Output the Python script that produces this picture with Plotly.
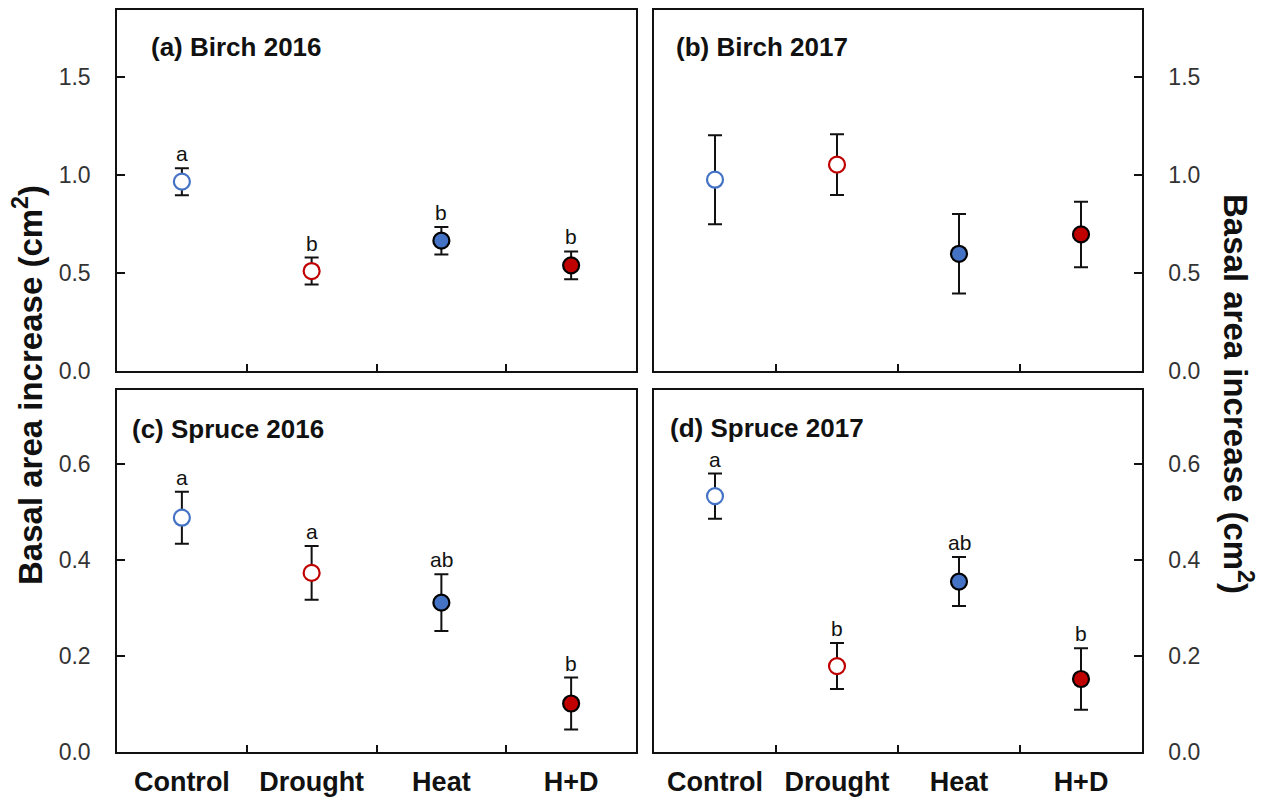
import plotly.graph_objects as go

# Treatments on the x axis
treatments = ["Control", "Drought", "Heat", "H+D"]

# Basal area increase (cm2): means and standard errors per panel
birch_2016_mean = [0.966, 0.510, 0.665, 0.539]
birch_2016_se = [0.069, 0.069, 0.070, 0.071]
birch_2016_letters = ["a", "b", "b", "b"]

birch_2017_mean = [0.976, 1.053, 0.598, 0.697]
birch_2017_se = [0.227, 0.155, 0.203, 0.167]
birch_2017_letters = ["", "", "", ""]

spruce_2016_mean = [0.488, 0.373, 0.311, 0.101]
spruce_2016_se = [0.054, 0.056, 0.059, 0.054]
spruce_2016_letters = ["a", "a", "ab", "b"]

spruce_2017_mean = [0.533, 0.179, 0.355, 0.152]
spruce_2017_se = [0.047, 0.048, 0.051, 0.064]
spruce_2017_letters = ["a", "b", "ab", "b"]

panel_titles = ["(a) Birch 2016", "(b) Birch 2017", "(c) Spruce 2016", "(d) Spruce 2017"]

BLUE = "#4472C4"
RED = "#C00000"
FONT = "Liberation Sans, Arial, sans-serif"

# Marker styling per treatment: open symbols for ambient, filled for heated
fill_colors = ["white", "white", BLUE, RED]
edge_colors = [BLUE, RED, "black", "black"]

W, H = 1264, 800
# Panel boxes in pixels (left, right, top, bottom)
boxes = [
    (117, 636, 10, 371),
    (654, 1142, 10, 371),
    (117, 636, 390, 752),
    (654, 1142, 390, 752),
]

panels = [
    (birch_2016_mean, birch_2016_se, birch_2016_letters),
    (birch_2017_mean, birch_2017_se, birch_2017_letters),
    (spruce_2016_mean, spruce_2016_se, spruce_2016_letters),
    (spruce_2017_mean, spruce_2017_se, spruce_2017_letters),
]

y_ranges = [[0, 1.842], [0, 1.842], [0, 0.754], [0, 0.754]]
y_dticks = [0.5, 0.5, 0.2, 0.2]

fig = go.Figure()
annotations = []

for i, ((mean, se, letters), box) in enumerate(zip(panels, boxes)):
    n = "" if i == 0 else str(i + 1)
    xref, yref = "x" + n, "y" + n
    fig.add_trace(go.Scatter(
        x=treatments, y=mean, xaxis=xref, yaxis=yref, mode="markers",
        error_y=dict(type="data", array=se, visible=True, color="#111111",
                     thickness=2, width=7),
        marker=dict(size=16, color=fill_colors,
                    line=dict(color=edge_colors, width=2.2)),
        showlegend=False, hoverinfo="skip",
    ))
    for t, m, s, lab in zip(treatments, mean, se, letters):
        if lab:
            annotations.append(dict(
                x=t, y=m + s, xref=xref, yref=yref, text=lab, showarrow=False,
                yanchor="bottom", xanchor="center", yshift=1,
                font=dict(family=FONT, size=21, color="#111111"),
            ))

    left, right, top, bottom = box
    xdom = [left / W, right / W]
    ydom = [1 - bottom / H, 1 - top / H]
    is_right = i in (1, 3)
    is_bottom = i in (2, 3)

    fig.layout["xaxis" + n] = dict(
        domain=xdom, anchor=yref, type="category", range=[-0.5, 3.5],
        tickson="boundaries", ticks="inside", ticklen=7, tickwidth=1.5,
        tickcolor="#111111", showline=True, linecolor="#111111", linewidth=1.5,
        mirror=True, showgrid=False, zeroline=False, automargin=False,
        showticklabels=is_bottom, ticklabelstandoff=5,
        tickfont=dict(family=FONT, size=27, color="#111111", weight="bold"),
    )
    fig.layout["yaxis" + n] = dict(
        domain=ydom, anchor=xref, range=y_ranges[i], dtick=y_dticks[i],
        tick0=0, tickformat=".1f", side="right" if is_right else "left",
        ticks="inside", ticklen=8, tickwidth=1.5, tickcolor="#111111",
        showline=True, linecolor="#111111", linewidth=1.5, mirror=True,
        showgrid=False, zeroline=False, automargin=False, ticklabelstandoff=20,
        tickfont=dict(family=FONT, size=23, color="#333333"),
    )

    # Panel heading inside the box
    title_x = [149, 674, 130, 668][i]
    title_y = [47, 47, 429, 428][i]
    annotations.append(dict(
        x=title_x / W, y=1 - title_y / H, xref="paper", yref="paper",
        text=panel_titles[i], showarrow=False, xanchor="left", yanchor="middle",
        font=dict(family=FONT, size=26, color="#111111", weight="bold"),
    ))

# Shared y-axis titles on both sides
ytitle = "Basal area increase (cm<sup>2</sup>)"
annotations.append(dict(
    x=28 / W, y=1 - 385 / H, xref="paper", yref="paper", text=ytitle,
    showarrow=False, textangle=-90, xanchor="center", yanchor="middle",
    font=dict(family=FONT, size=33, color="#111111", weight="bold"),
))
annotations.append(dict(
    x=1238 / W, y=1 - 394 / H, xref="paper", yref="paper", text=ytitle,
    showarrow=False, textangle=90, xanchor="center", yanchor="middle",
    font=dict(family=FONT, size=33, color="#111111", weight="bold"),
))

fig.update_layout(
    width=W, height=H, margin=dict(l=0, r=0, t=0, b=0, autoexpand=False),
    paper_bgcolor="white", plot_bgcolor="white",
    annotations=annotations,
)

fig.write_html("out.html")
